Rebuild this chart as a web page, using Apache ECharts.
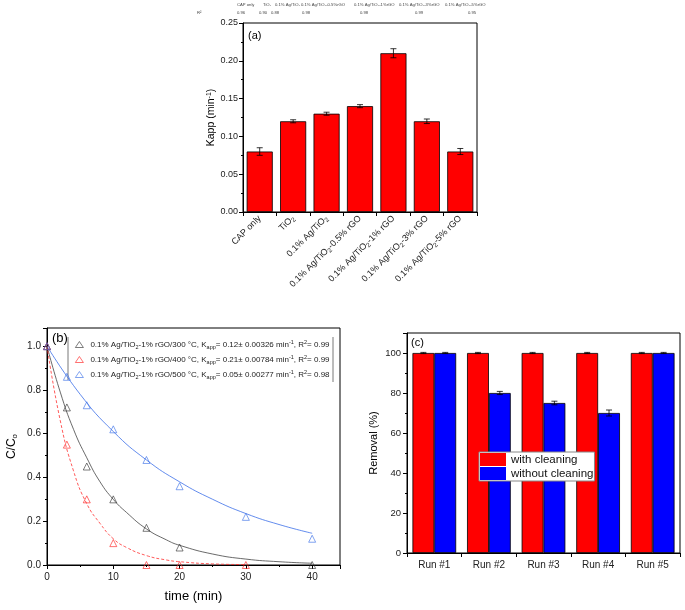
<!DOCTYPE html>
<html><head><meta charset="utf-8">
<script src="https://cdn.jsdelivr.net/npm/echarts@6/dist/echarts.min.js"></script>
<style>html,body{margin:0;padding:0;background:#fff}#c{width:685px;height:610px}</style>
</head><body><div id="c"></div>
<script>
// ---------- data ----------
const headerLabels = ['CAP only','TiO2','0.1% Ag/TiO2','0.1% Ag/TiO2-0.5%rGO','0.1% Ag/TiO2-1%rGO','0.1% Ag/TiO2-3%rGO','0.1% Ag/TiO2-5%rGO'];
const r2Values = ['0.96','0.90','0.88','0.98','0.98','0.99','0.95'];

const kappCategories = ['CAP only','TiO2','0.1% Ag/TiO2','0.1% Ag/TiO2-0.5% rGO','0.1% Ag/TiO2-1% rGO','0.1% Ag/TiO2-3% rGO','0.1% Ag/TiO2-5% rGO'];
const kappValues = [0.08, 0.12, 0.13, 0.14, 0.21, 0.12, 0.08];
const kappErrors = [0.005, 0.002, 0.002, 0.002, 0.006, 0.003, 0.004];

const t300 = [0, 3, 6, 10, 15, 20, 40];
const c300 = [1.0, 0.72, 0.45, 0.30, 0.17, 0.08, 0.0];
const t400 = [0, 3, 6, 10, 15, 20, 30];
const c400 = [1.0, 0.55, 0.30, 0.10, 0.0, 0.0, 0.0];
const t500 = [0, 3, 6, 10, 15, 20, 30, 40];
const c500 = [1.0, 0.86, 0.73, 0.62, 0.48, 0.36, 0.22, 0.12];

// fitted curves
const fitT300 = [0, 2, 4, 6, 8, 10, 12, 15, 18, 20, 25, 30, 35, 40];
const fitC300 = [1.0, 0.79, 0.62, 0.49, 0.38, 0.30, 0.24, 0.165, 0.115, 0.09, 0.05, 0.027, 0.015, 0.008];
const fitT400 = [0, 2, 4, 6, 8, 10, 12, 15, 18, 20, 25, 30];
const fitC400 = [1.0, 0.66, 0.43, 0.28, 0.19, 0.12, 0.08, 0.043, 0.023, 0.015, 0.005, 0.002];
const fitT500 = [0, 5, 10, 15, 20, 25, 30, 35, 40];
const fitC500 = [1.0, 0.78, 0.61, 0.48, 0.38, 0.30, 0.235, 0.185, 0.145];

const legendB = {
  b300: '0.1% Ag/TiO{s|2}-1% rGO/300 °C, K{s|app}= 0.12± 0.00326 min{u|-1}, R{u|2}= 0.99',
  b400: '0.1% Ag/TiO{s|2}-1% rGO/400 °C, K{s|app}= 0.21± 0.00784 min{u|-1}, R{u|2}= 0.99',
  b500: '0.1% Ag/TiO{s|2}-1% rGO/500 °C, K{s|app}= 0.05± 0.00277 min{u|-1}, R{u|2}= 0.98'
};

const runCategories = ['Run #1','Run #2','Run #3','Run #4','Run #5'];
const withCleaning = [100, 100, 100, 100, 100];
const withCleaningErr = [0.3, 0.3, 0.3, 0.3, 0.3];
const withoutCleaning = [100, 80, 75, 70, 100];
const withoutCleaningErr = [0.3, 0.8, 0.9, 1.5, 0.3];

// ---------- helpers ----------
const FONT = 'Liberation Sans';
const TXT = '#222';
const zip = (a, b) => a.map((v, i) => [v, b[i]]);
const richSmall = { s: { fontSize: 5.5, verticalAlign: 'bottom', padding: [5, 0, 0, 0], fontFamily: FONT, color: TXT },
                    u: { fontSize: 5.5, verticalAlign: 'top', padding: [0, 0, 4, 0], fontFamily: FONT, color: TXT } };
const richA = { s: { fontSize: 6.5, verticalAlign: 'bottom', padding: [5, 0, 0, 0], fontFamily: FONT, color: TXT } };

function errRender(offsetFrac) {
  return function (params, api) {
    const idx = api.value(0), v = api.value(1), e = api.value(2);
    const band = api.size([1, 0])[0];
    const top = api.coord([idx, v + e]);
    const bot = api.coord([idx, v - e]);
    const x = top[0] + band * offsetFrac;
    const cap = 3;
    const st = { stroke: '#000', lineWidth: 0.8 };
    return { type: 'group', children: [
      { type: 'line', shape: { x1: x, y1: top[1], x2: x, y2: bot[1] }, style: st },
      { type: 'line', shape: { x1: x - cap, y1: top[1], x2: x + cap, y2: top[1] }, style: st },
      { type: 'line', shape: { x1: x - cap, y1: bot[1], x2: x + cap, y2: bot[1] }, style: st }
    ]};
  };
}

const axisLineBlack = { show: true, lineStyle: { color: '#000', width: 1 } };
const tickOut = { show: true, inside: false, length: 4, lineStyle: { color: '#000' } };
const minorOut = (n) => ({ show: true, splitNumber: n, length: 2, lineStyle: { color: '#000' } });

// header graphic (table above panel a)
const headerX = [237, 263, 275, 301, 354, 399, 445];
const r2X = [237, 259, 271, 302, 360, 415, 468];
const HF = '4.2px "Liberation Sans"';
const graphics = [];
headerLabels.forEach((h, i) => graphics.push({ type: 'text', left: headerX[i], top: 3,
  style: { text: h.replace('TiO2', 'TiO₂'), font: HF, fill: '#444' } }));
graphics.push({ type: 'text', left: 197, top: 11, style: { text: 'R²', font: HF, fill: '#444' } });
r2Values.forEach((r, i) => graphics.push({ type: 'text', left: r2X[i], top: 11,
  style: { text: r, font: HF, fill: '#444' } }));
// panel labels
graphics.push({ type: 'text', left: 248, top: 30, style: { text: '(a)', font: '11px "Liberation Sans"', fill: '#000' } });
graphics.push({ type: 'text', left: 52, top: 332, style: { text: '(b)', font: '13px "Liberation Sans"', fill: '#000' } });
graphics.push({ type: 'text', left: 411, top: 337, style: { text: '(c)', font: '11px "Liberation Sans"', fill: '#000' } });
// legend box side lines for panel b
graphics.push({ type: 'line', shape: { x1: 68, y1: 337, x2: 68, y2: 380 }, style: { stroke: '#555', lineWidth: 0.8 } });
graphics.push({ type: 'line', shape: { x1: 333, y1: 337, x2: 333, y2: 382 }, style: { stroke: '#555', lineWidth: 0.8 } });

const option = {
  backgroundColor: '#fff',
  animation: false,
  textStyle: { fontFamily: FONT },
  graphic: graphics,
  grid: [
    { left: 243, top: 23, width: 234, height: 189, show: true, borderColor: '#000', borderWidth: 1, backgroundColor: 'transparent' },
    { left: 47, top: 328, width: 293, height: 237, show: true, borderColor: '#000', borderWidth: 1, backgroundColor: 'transparent' },
    { left: 407, top: 333, width: 273, height: 220, show: true, borderColor: '#000', borderWidth: 1, backgroundColor: 'transparent' }
  ],
  xAxis: [
    { gridIndex: 0, type: 'category', data: kappCategories, axisLine: axisLineBlack, axisTick: tickOut,
      axisLabel: { rotate: 45, fontSize: 9, color: TXT, fontFamily: FONT, margin: 5, interval: 0,
        formatter: v => v.replace('TiO2', 'TiO{s|2}'), rich: richA } },
    { gridIndex: 1, type: 'value', min: 0, max: 44.2, interval: 10, axisLine: axisLineBlack, axisTick: tickOut,
      minorTick: minorOut(2), splitLine: { show: false },
      axisLabel: { fontSize: 10, color: TXT, fontFamily: FONT, showMaxLabel: false, margin: 7 },
      name: 'time (min)', nameLocation: 'middle', nameGap: 25, nameTextStyle: { fontSize: 13, color: '#000', fontFamily: FONT } },
    { gridIndex: 2, type: 'category', data: runCategories, axisLine: axisLineBlack, axisTick: tickOut,
      axisLabel: { fontSize: 10, color: TXT, fontFamily: FONT, margin: 7 } }
  ],
  yAxis: [
    { gridIndex: 0, type: 'value', min: 0, max: 0.25, interval: 0.05, axisLine: axisLineBlack, axisTick: tickOut,
      minorTick: minorOut(2), splitLine: { show: false },
      axisLabel: { fontSize: 9, color: TXT, fontFamily: FONT, formatter: v => v.toFixed(2), margin: 5 },
      name: 'Kapp (min{u|-1})', nameLocation: 'middle', nameGap: 25,
      nameTextStyle: { fontSize: 10.5, color: '#000', fontFamily: FONT, rich: { u: { fontSize: 7, verticalAlign: 'top', padding: [0, 0, 5, 0], color: '#000', fontFamily: FONT } } } },
    { gridIndex: 1, type: 'value', min: 0, max: 1.083, interval: 0.2, axisLine: axisLineBlack, axisTick: tickOut,
      minorTick: minorOut(2), splitLine: { show: false },
      axisLabel: { fontSize: 10, color: TXT, fontFamily: FONT, formatter: v => v.toFixed(1), showMaxLabel: false, margin: 6 },
      name: 'C/C{s|o}', nameLocation: 'middle', nameGap: 28,
      nameTextStyle: { fontSize: 12, color: '#000', fontFamily: FONT, rich: { s: { fontSize: 8, verticalAlign: 'bottom', padding: [6, 0, 0, 0], color: '#000', fontFamily: FONT } } } },
    { gridIndex: 2, type: 'value', min: 0, max: 110, interval: 20, axisLine: axisLineBlack, axisTick: tickOut,
      minorTick: minorOut(2), splitLine: { show: false },
      axisLabel: { fontSize: 9.5, color: TXT, fontFamily: FONT, showMaxLabel: false, margin: 6 },
      name: 'Removal (%)', nameLocation: 'middle', nameGap: 28, nameTextStyle: { fontSize: 11, color: '#000', fontFamily: FONT } }
  ],
  legend: [
    { data: ['b300', 'b400', 'b500'], orient: 'vertical', left: 75, top: 339, itemGap: 4, itemWidth: 8, itemHeight: 6,
      icon: 'triangle', padding: 0, selectedMode: false,
      itemStyle: { color: 'rgba(0,0,0,0)', borderWidth: 0.8 },
      formatter: n => legendB[n],
      textStyle: { fontSize: 8, color: TXT, fontFamily: FONT, padding: [0, 0, 0, 2], rich: richSmall } },
    { data: ['with cleaning', 'without cleaning'], orient: 'vertical', left: 479, top: 452, itemGap: 1, itemWidth: 26, itemHeight: 13,
      icon: 'rect', padding: [1, 1, 1, 1], selectedMode: false, backgroundColor: '#fff', borderColor: '#888', borderWidth: 1,
      itemStyle: { borderWidth: 0 },
      textStyle: { fontSize: 11.5, color: '#111', fontFamily: FONT } }
  ],
  series: [
    // panel a
    { type: 'bar', xAxisIndex: 0, yAxisIndex: 0, data: kappValues, barWidth: '78%',
      itemStyle: { color: '#ff0000', borderColor: '#000', borderWidth: 0.8 } },
    { type: 'custom', xAxisIndex: 0, yAxisIndex: 0, renderItem: errRender(0), z: 5,
      data: kappValues.map((v, i) => [i, v, kappErrors[i]]) },
    // panel b fits
    { type: 'line', xAxisIndex: 1, yAxisIndex: 1, data: zip(fitT300, fitC300), smooth: true, symbol: 'none',
      lineStyle: { color: '#444', width: 0.8 } },
    { type: 'line', xAxisIndex: 1, yAxisIndex: 1, data: zip(fitT400, fitC400), smooth: true, symbol: 'none',
      lineStyle: { color: '#ff3030', width: 0.8, type: [3, 2] } },
    { type: 'line', xAxisIndex: 1, yAxisIndex: 1, data: zip(fitT500, fitC500), smooth: true, symbol: 'none',
      lineStyle: { color: '#3b6fe8', width: 0.8 } },
    // panel b points
    { name: 'b300', type: 'scatter', xAxisIndex: 1, yAxisIndex: 1, data: zip(t300, c300), symbol: 'triangle', symbolSize: 7,
      itemStyle: { color: 'rgba(0,0,0,0)', borderColor: '#333', borderWidth: 0.8 }, z: 6 },
    { name: 'b400', type: 'scatter', xAxisIndex: 1, yAxisIndex: 1, data: zip(t400, c400), symbol: 'triangle', symbolSize: 7,
      itemStyle: { color: 'rgba(0,0,0,0)', borderColor: '#ff2020', borderWidth: 0.8 }, z: 6 },
    { name: 'b500', type: 'scatter', xAxisIndex: 1, yAxisIndex: 1, data: zip(t500, c500), symbol: 'triangle', symbolSize: 7,
      itemStyle: { color: 'rgba(0,0,0,0)', borderColor: '#3b6fe8', borderWidth: 0.8 }, z: 6 },
    // panel c
    { name: 'with cleaning', type: 'bar', xAxisIndex: 2, yAxisIndex: 2, data: withCleaning, barWidth: '40%', barGap: '0%',
      itemStyle: { color: '#ff0000', borderColor: '#000', borderWidth: 0.8 } },
    { name: 'without cleaning', type: 'bar', xAxisIndex: 2, yAxisIndex: 2, data: withoutCleaning, barWidth: '40%', barGap: '0%',
      itemStyle: { color: '#0000ff', borderColor: '#000', borderWidth: 0.8 } },
    { type: 'custom', xAxisIndex: 2, yAxisIndex: 2, renderItem: errRender(-0.2), z: 5,
      data: withCleaning.map((v, i) => [i, v, withCleaningErr[i]]) },
    { type: 'custom', xAxisIndex: 2, yAxisIndex: 2, renderItem: errRender(0.2), z: 5,
      data: withoutCleaning.map((v, i) => [i, v, withoutCleaningErr[i]]) }
  ]
};

const chart = echarts.init(document.getElementById('c'), null, { renderer: 'canvas' });
chart.setOption(option);
</script>
</body></html>
